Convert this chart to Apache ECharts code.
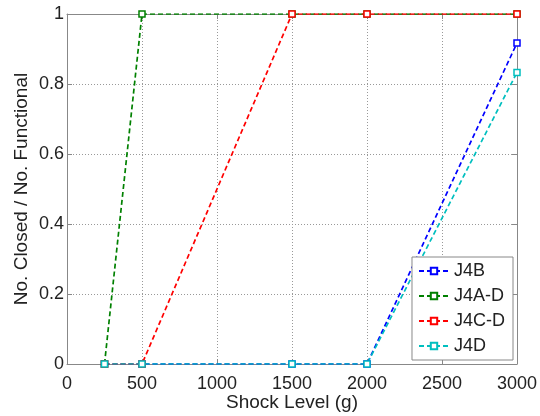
<!DOCTYPE html>
<html>
<head>
<meta charset="utf-8">
<script src="https://cdn.jsdelivr.net/npm/echarts@6/dist/echarts.min.js"></script>
<style>
  html, body { margin: 0; padding: 0; background: #fff; }
  #main { width: 540px; height: 416px; }
</style>
</head>
<body>
<div id="main"></div>
<script>
var shockLevels = [250, 500, 1500, 2000, 3000];
var j4b = [0, 0, 0, 0, 0.917];
var j4ad = [0, 1, 1, 1, 1];
var j4cd = [0, 0, 1, 1, 1];
var j4d = [0, 0, 0, 0, 0.833];
var xTicks = [0, 500, 1000, 1500, 2000, 2500, 3000];
var yTicks = [0, 0.2, 0.4, 0.6, 0.8, 1];

var chart = echarts.init(document.getElementById('main'));

function pairs(vals) {
    return shockLevels.map(function (x, i) { return [x, vals[i]]; });
}

function makeSeries(name, vals, color) {
    return {
        name: name,
        type: 'line',
        data: pairs(vals),
        symbol: 'rect',
        symbolSize: 6,
        showSymbol: true,
        itemStyle: { color: '#fff', borderColor: color, borderWidth: 1.5 },
        lineStyle: { color: color, width: 1.7, type: [5, 3] },
        emphasis: { disabled: true },
        animation: false
    };
}

var font = 'Liberation Sans, Arial, sans-serif';

option = {
    backgroundColor: '#ffffff',
    animation: false,
    grid: { left: 67, right: 23, top: 14, bottom: 52, containLabel: false, outerBoundsMode: 'none' },
    legend: {
        orient: 'vertical',
        right: 27,
        bottom: 56,
        backgroundColor: '#fff',
        borderColor: '#888',
        borderWidth: 1,
        padding: [5, 8, 5, 6],
        itemWidth: 30,
        itemHeight: 8,
        itemGap: 7,
        textStyle: { fontFamily: font, fontSize: 18, color: '#222' },
        data: ['J4B', 'J4A-D', 'J4C-D', 'J4D']
    },
    xAxis: [{
        type: 'value',
        min: 0, max: 3000, interval: 500,
        name: 'Shock Level (g)',
        nameLocation: 'middle',
        nameGap: 29,
        nameMoveOverlap: false,
        nameTextStyle: { fontFamily: font, fontSize: 19, color: '#222' },
        axisLine: { show: true, onZero: false, lineStyle: { color: '#888' } },
        axisTick: { inside: true, length: 5, lineStyle: { color: '#888' } },
        axisLabel: { fontFamily: font, fontSize: 18, color: '#222', margin: 11,
            formatter: function (v) { return xTicks.indexOf(v) >= 0 ? String(v) : ''; } },
        splitLine: { show: true, lineStyle: { color: '#999', type: [1, 2] } }
    }, {
        type: 'value', position: 'top',
        min: 0, max: 3000, interval: 500,
        axisLine: { show: true, onZero: false, lineStyle: { color: '#888' } },
        axisTick: { inside: true, length: 5, lineStyle: { color: '#888' } },
        axisLabel: { show: false },
        splitLine: { show: false }
    }],
    yAxis: [{
        type: 'value',
        min: 0, max: 1, interval: 0.2,
        name: 'No. Closed / No. Functional',
        nameLocation: 'middle',
        nameGap: 36,
        nameMoveOverlap: false,
        nameTextStyle: { fontFamily: font, fontSize: 19, color: '#222' },
        axisLine: { show: true, onZero: false, lineStyle: { color: '#888' } },
        axisTick: { inside: true, length: 5, lineStyle: { color: '#888' } },
        axisLabel: { fontFamily: font, fontSize: 18, color: '#222', margin: 3,
            formatter: function (v) {
                var r = +v.toFixed(1);
                return yTicks.indexOf(r) >= 0 ? String(r) : '';
            } },
        splitLine: { show: true, lineStyle: { color: '#999', type: [1, 2] } }
    }, {
        type: 'value', position: 'right',
        min: 0, max: 1, interval: 0.2,
        axisLine: { show: true, onZero: false, lineStyle: { color: '#888' } },
        axisTick: { inside: true, length: 5, lineStyle: { color: '#888' } },
        axisLabel: { show: false },
        splitLine: { show: false }
    }],
    series: [
        makeSeries('J4B', j4b, '#0000ff'),
        makeSeries('J4A-D', j4ad, '#008000'),
        makeSeries('J4C-D', j4cd, '#ff0000'),
        makeSeries('J4D', j4d, '#00bfbf')
    ]
};
chart.setOption(option);
</script>
</body>
</html>
